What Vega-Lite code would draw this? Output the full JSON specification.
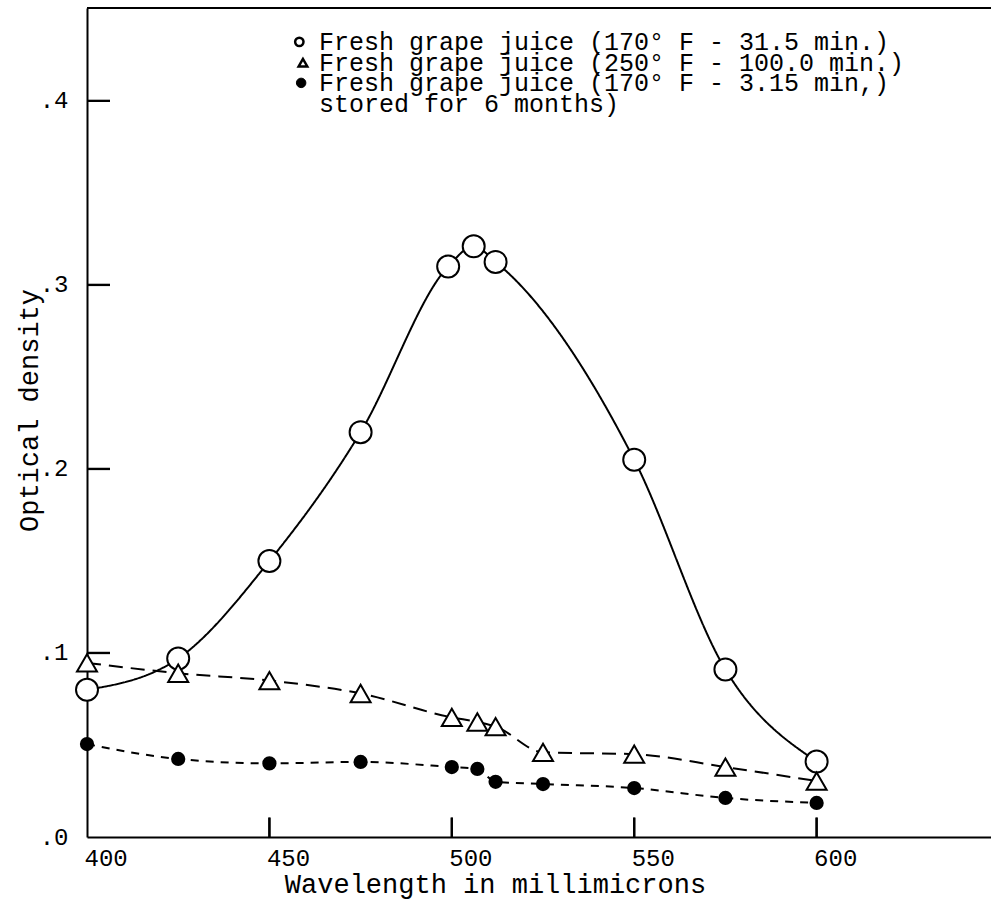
{
  "$schema": "https://vega.github.io/schema/vega-lite/v6.json",
  "width": 904,
  "height": 829,
  "autosize": {"type": "none"},
  "padding": {"left": 87, "top": 8, "right": 0, "bottom": 69},
  "background": "white",
  "config": {
    "view": {"stroke": null},
    "font": "Liberation Mono",
    "axis": {
      "domainColor": "black", "domainWidth": 2, "tickColor": "black", "tickWidth": 2,
      "labelColor": "black", "titleColor": "black", "labelFont": "Liberation Mono",
      "titleFont": "Liberation Mono", "labelFontSize": 24, "titleFontSize": 27,
      "titleFontWeight": "normal", "grid": false
    }
  },
  "datasets": {
    "main": [
      {"series": "A", "wavelength": 400, "od": 0.080},
      {"series": "A", "wavelength": 425, "od": 0.097},
      {"series": "A", "wavelength": 450, "od": 0.150},
      {"series": "A", "wavelength": 475, "od": 0.220},
      {"series": "A", "wavelength": 499, "od": 0.310},
      {"series": "A", "wavelength": 506, "od": 0.321},
      {"series": "A", "wavelength": 512, "od": 0.3125},
      {"series": "A", "wavelength": 550, "od": 0.205},
      {"series": "A", "wavelength": 575, "od": 0.091},
      {"series": "A", "wavelength": 600, "od": 0.041},
      {"series": "B", "wavelength": 400, "od": 0.0946},
      {"series": "B", "wavelength": 425, "od": 0.089},
      {"series": "B", "wavelength": 450, "od": 0.085},
      {"series": "B", "wavelength": 475, "od": 0.078},
      {"series": "B", "wavelength": 500, "od": 0.065},
      {"series": "B", "wavelength": 507, "od": 0.0625},
      {"series": "B", "wavelength": 512, "od": 0.060},
      {"series": "B", "wavelength": 525, "od": 0.046},
      {"series": "B", "wavelength": 550, "od": 0.045},
      {"series": "B", "wavelength": 575, "od": 0.038},
      {"series": "B", "wavelength": 600, "od": 0.0304},
      {"series": "C", "wavelength": 400, "od": 0.0505},
      {"series": "C", "wavelength": 425, "od": 0.0424},
      {"series": "C", "wavelength": 450, "od": 0.040},
      {"series": "C", "wavelength": 475, "od": 0.0408},
      {"series": "C", "wavelength": 500, "od": 0.038},
      {"series": "C", "wavelength": 507, "od": 0.037},
      {"series": "C", "wavelength": 512, "od": 0.030},
      {"series": "C", "wavelength": 525, "od": 0.0288},
      {"series": "C", "wavelength": 550, "od": 0.0266},
      {"series": "C", "wavelength": 575, "od": 0.0212},
      {"series": "C", "wavelength": 600, "od": 0.0185}
    ],
    "legend": [
      {"key": "A", "text": "Fresh grape juice (170° F - 31.5 min.)"},
      {"key": "B", "text": "Fresh grape juice (250° F - 100.0 min.)"},
      {"key": "C", "text": "Fresh grape juice (170° F - 3.15 min,)"},
      {"key": "C2", "text": "stored for 6 months)"}
    ],
    "xticks": [{"wavelength": 450}, {"wavelength": 500}, {"wavelength": 550}, {"wavelength": 600}],
    "yticks": [{"od": 0.1}, {"od": 0.2}, {"od": 0.3}, {"od": 0.4}]
  },
  "layer": [
    {
      "data": {"name": "main"},
      "mark": {"type": "line", "color": "black", "strokeWidth": 2, "interpolate": "monotone"},
      "encoding": {
        "x": {
          "field": "wavelength", "type": "quantitative",
          "scale": {"domain": [400, 647.8], "nice": false, "zero": false},
          "axis": {
            "title": "Wavelength in millimicrons", "values": [400, 450, 500, 550, 600], "format": "d",
            "ticks": false, "labelPadding": 9, "labelAlign": "left", "labelOffset": -3,
            "titleX": 408, "titleY": 47, "titleAlign": "center", "titleBaseline": "middle"
          }
        },
        "y": {
          "field": "od", "type": "quantitative",
          "scale": {"domain": [0, 0.4505], "nice": false},
          "axis": {
            "title": "Optical density", "values": [0, 0.1, 0.2, 0.3, 0.4],
            "labelExpr": "replace(format(datum.value, '.1f'), '0.', '.')",
            "ticks": false, "labelPadding": 19,
            "titleX": -58, "titleY": 402, "titleAlign": "center", "titleBaseline": "middle", "titleAngle": 270
          }
        },
        "detail": {"field": "series", "type": "nominal"},
        "strokeDash": {
          "field": "series", "type": "nominal",
          "scale": {"domain": ["A", "B", "C"], "range": [[1, 0], [14, 8], [8, 7]]},
          "legend": null
        }
      }
    },
    {
      "data": {"name": "xticks"},
      "mark": {"type": "rule", "color": "black", "strokeWidth": 2.2},
      "encoding": {
        "x": {"field": "wavelength", "type": "quantitative"},
        "y": {"datum": 0, "type": "quantitative"},
        "y2": {"datum": 0.0105}
      }
    },
    {
      "data": {"name": "yticks"},
      "mark": {"type": "rule", "color": "black", "strokeWidth": 2.2},
      "encoding": {
        "y": {"field": "od", "type": "quantitative"},
        "x": {"datum": 400, "type": "quantitative"},
        "x2": {"datum": 406.3}
      }
    },
    {
      "data": {"name": "xticks"},
      "mark": {"type": "point", "shape": "stroke", "angle": 90, "filled": false, "stroke": "black", "strokeWidth": 2.2, "opacity": 1, "size": 380},
      "encoding": {
        "x": {"field": "wavelength", "type": "quantitative"},
        "y": {"datum": 0.0053, "type": "quantitative"}
      }
    },
    {
      "data": {"name": "yticks"},
      "mark": {"type": "point", "shape": "stroke", "filled": false, "stroke": "black", "strokeWidth": 2.2, "opacity": 1, "size": 529},
      "encoding": {
        "y": {"field": "od", "type": "quantitative"},
        "x": {"datum": 403.15, "type": "quantitative"}
      }
    },
    {
      "data": {"values": [{}]},
      "mark": {"type": "rule", "color": "black", "strokeWidth": 2},
      "encoding": {"y": {"datum": 0.4505, "type": "quantitative"}}
    },
    {
      "data": {"name": "main"},
      "transform": [{"filter": "datum.series == 'A'"}],
      "mark": {"type": "point", "shape": "circle", "filled": true, "fill": "white", "stroke": "black", "strokeWidth": 2, "opacity": 1, "size": 484},
      "encoding": {"x": {"field": "wavelength", "type": "quantitative"}, "y": {"field": "od", "type": "quantitative"}}
    },
    {
      "data": {"name": "main"},
      "transform": [{"filter": "datum.series == 'B'"}],
      "mark": {"type": "point", "shape": "triangle-up", "filled": true, "fill": "white", "stroke": "black", "strokeWidth": 2, "opacity": 1, "size": 400},
      "encoding": {"x": {"field": "wavelength", "type": "quantitative"}, "y": {"field": "od", "type": "quantitative"}}
    },
    {
      "data": {"name": "main"},
      "transform": [{"filter": "datum.series == 'C'"}],
      "mark": {"type": "point", "shape": "circle", "filled": true, "fill": "black", "stroke": "black", "strokeWidth": 2, "opacity": 1, "size": 150},
      "encoding": {"x": {"field": "wavelength", "type": "quantitative"}, "y": {"field": "od", "type": "quantitative"}}
    },
    {
      "data": {"name": "legend"},
      "transform": [{"filter": "datum.key == 'A'"}],
      "mark": {"type": "point", "shape": "circle", "filled": true, "fill": "white", "stroke": "black", "strokeWidth": 2.5, "opacity": 1, "size": 70},
      "encoding": {"x": {"datum": 458.2, "type": "quantitative"}, "y": {"datum": 0.4321, "type": "quantitative"}}
    },
    {
      "data": {"name": "legend"},
      "transform": [{"filter": "datum.key == 'B'"}],
      "mark": {"type": "point", "shape": "triangle-up", "filled": true, "fill": "white", "stroke": "black", "strokeWidth": 2.5, "opacity": 1, "size": 75},
      "encoding": {"x": {"datum": 459.2, "type": "quantitative"}, "y": {"datum": 0.4208, "type": "quantitative"}}
    },
    {
      "data": {"name": "legend"},
      "transform": [{"filter": "datum.key == 'C'"}],
      "mark": {"type": "point", "shape": "circle", "filled": true, "fill": "black", "stroke": "black", "strokeWidth": 1, "opacity": 1, "size": 90},
      "encoding": {"x": {"datum": 458.7, "type": "quantitative"}, "y": {"datum": 0.4098, "type": "quantitative"}}
    },
    {
      "data": {"name": "legend"},
      "transform": [{"filter": "datum.key == 'A'"}],
      "mark": {"type": "text", "font": "Liberation Mono", "fontSize": 25, "color": "black", "align": "left", "baseline": "middle"},
      "encoding": {"x": {"datum": 463.6, "type": "quantitative"}, "y": {"datum": 0.4321, "type": "quantitative"}, "text": {"field": "text"}}
    },
    {
      "data": {"name": "legend"},
      "transform": [{"filter": "datum.key == 'B'"}],
      "mark": {"type": "text", "font": "Liberation Mono", "fontSize": 25, "color": "black", "align": "left", "baseline": "middle"},
      "encoding": {"x": {"datum": 463.6, "type": "quantitative"}, "y": {"datum": 0.4208, "type": "quantitative"}, "text": {"field": "text"}}
    },
    {
      "data": {"name": "legend"},
      "transform": [{"filter": "datum.key == 'C'"}],
      "mark": {"type": "text", "font": "Liberation Mono", "fontSize": 25, "color": "black", "align": "left", "baseline": "middle"},
      "encoding": {"x": {"datum": 463.6, "type": "quantitative"}, "y": {"datum": 0.4098, "type": "quantitative"}, "text": {"field": "text"}}
    },
    {
      "data": {"name": "legend"},
      "transform": [{"filter": "datum.key == 'C2'"}],
      "mark": {"type": "text", "font": "Liberation Mono", "fontSize": 25, "color": "black", "align": "left", "baseline": "middle"},
      "encoding": {"x": {"datum": 463.6, "type": "quantitative"}, "y": {"datum": 0.3984, "type": "quantitative"}, "text": {"field": "text"}}
    }
  ]
}
